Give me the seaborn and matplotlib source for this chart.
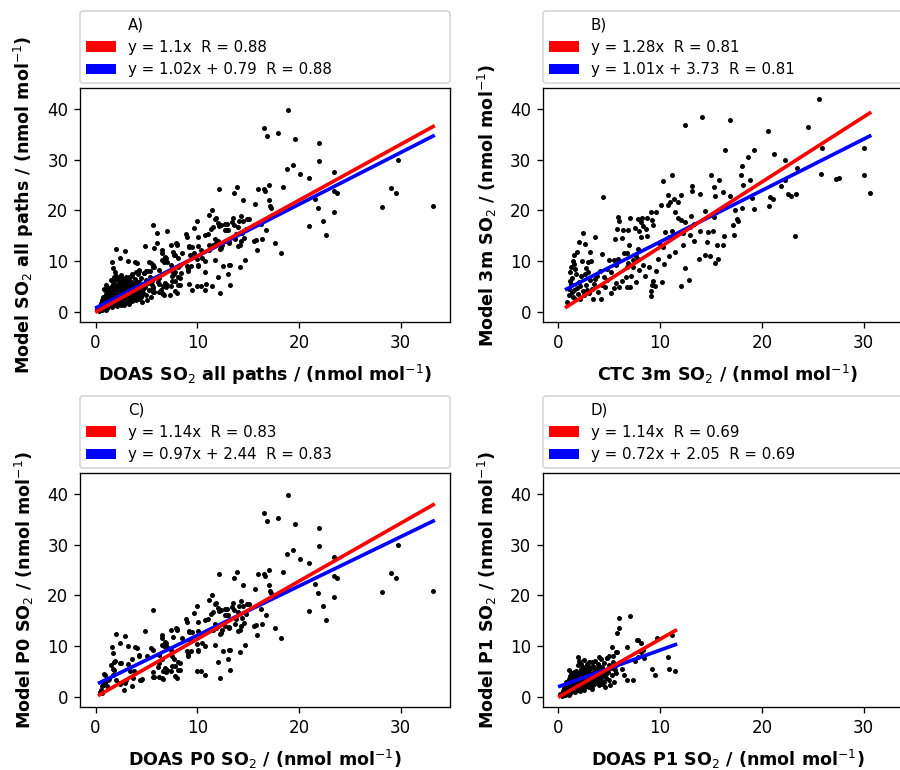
import numpy as np
import matplotlib
matplotlib.use('Agg')
import matplotlib.pyplot as plt
from matplotlib.patches import Patch
import seaborn as sns

# P0 path: DOAS vs model SO2 (nmol/mol)
p0_points = [
    (18.9, 39.7), (16.6, 36.2), (16.9, 34.7), (17.9, 35.3), (19.6, 34.1), (22.0, 33.2), (22.0, 29.7),
    (19.4, 29.0), (18.8, 28.2), (20.1, 27.2), (21.0, 26.4), (23.4, 27.5), (23.4, 23.9), (23.7, 23.4),
    (29.7, 29.9), (29.1, 24.4), (29.5, 23.4), (28.2, 20.6), (33.2, 20.8), (21.6, 22.2), (21.9, 20.5),
    (23.4, 19.6), (22.4, 17.9), (21.0, 16.9), (22.7, 15.1), (18.4, 24.7), (17.1, 25.0), (16.0, 24.3),
    (16.6, 24.2), (16.7, 23.8), (13.9, 24.7), (13.6, 23.4), (12.1, 24.2), (14.5, 22.0), (15.7, 21.2),
    (17.1, 22.0), (17.2, 20.9), (17.3, 20.4),
    (11.5, 20.0), (11.2, 19.1), (11.7, 18.3), (10.0, 17.9), (9.7, 16.6), (12.0, 17.6), (12.1, 17.0),
    (11.4, 16.4), (12.9, 17.4), (13.5, 18.6), (13.4, 17.8), (14.3, 19.0), (14.5, 17.9), (15.1, 18.3),
    (16.3, 17.4), (16.8, 16.1), (14.8, 16.4), (14.4, 15.5), (13.8, 15.3), (13.0, 16.1), (12.7, 16.2),
    (10.1, 14.7), (10.8, 15.1), (8.9, 15.3), (9.0, 14.7), (9.2, 13.0), (9.5, 12.8), (10.1, 13.0),
    (10.4, 12.3), (11.7, 14.4), (11.2, 13.2), (11.8, 13.6), (12.2, 12.4), (12.4, 13.2), (12.7, 14.0),
    (13.1, 13.8), (13.7, 14.4), (14.2, 13.3), (14.0, 13.0), (14.3, 14.0), (14.6, 14.5), (15.6, 14.0),
    (15.8, 14.2), (16.4, 14.4), (15.9, 12.2), (17.6, 13.6), (18.2, 11.6), (14.7, 10.3), (14.2, 8.8),
    (13.1, 9.2), (12.5, 9.0), (13.0, 7.4), (13.2, 5.3), (12.2, 3.7), (12.0, 6.9), (11.7, 10.2),
    (10.8, 10.0), (10.5, 10.6), (10.0, 10.4), (10.0, 5.1), (10.4, 5.1), (10.8, 4.3), (10.1, 9.0),
    (9.4, 9.1), (9.3, 11.3), (9.1, 8.4),
    (5.7, 17.2), (4.9, 13.0), (2.0, 12.4), (2.9, 12.1), (2.4, 10.6), (1.6, 9.8), (1.7, 8.6),
    (3.2, 10.1), (3.9, 9.9), (4.1, 9.6), (1.8, 6.9), (1.5, 6.4), (1.7, 5.5), (2.4, 6.8), (3.2, 6.6),
    (3.6, 7.4), (4.3, 8.2), (5.1, 8.0), (5.5, 9.7), (5.7, 9.3), (6.5, 12.3), (6.5, 11.7), (6.5, 10.3),
    (6.7, 10.0), (6.8, 10.8), (7.6, 11.8), (8.0, 13.3), (7.9, 13.5), (8.5, 11.6), (7.4, 9.3),
    (7.5, 8.0), (7.7, 7.5), (8.3, 6.7), (7.5, 6.1), (7.8, 4.2), (8.0, 3.7), (8.1, 5.4), (6.8, 5.7),
    (7.0, 5.3), (7.4, 5.1), (6.5, 3.8), (6.2, 3.9), (5.7, 3.9), (5.7, 4.9), (6.2, 6.8), (6.5, 7.5),
    (6.2, 8.3), (4.4, 3.4), (4.5, 3.3), (3.6, 2.2), (3.7, 3.8), (3.8, 5.1), (2.9, 2.8), (2.3, 2.8),
    (2.0, 3.4), (0.8, 4.5), (0.6, 2.1), (0.5, 1.4), (0.9, 2.8), (1.2, 3.4),
    (7.4, 13.2), (8.0, 13.4), (9.2, 12.9), (6.9, 10.7), (7.0, 9.9), (4.3, 8.0), (2.5, 6.8),
    (6.1, 5.9), (6.6, 5.1), (6.9, 4.9), (7.8, 6.2), (8.1, 6.9), (8.3, 5.3), (5.8, 3.9), (6.6, 3.6),
    (4.6, 3.6), (3.4, 5.2), (3.0, 3.4), (2.4, 2.6), (1.7, 4.4), (1.3, 3.6), (0.9, 4.4), (0.7, 2.4),
    (1.1, 2.1), (2.8, 1.4), (1.9, 7.1), (1.8, 5.4), (12.0, 13.9), (11.6, 13.3), (12.3, 12.6),
    (13.1, 13.6), (12.9, 16.1), (14.0, 16.7), (11.1, 15.3), (11.6, 16.7), (12.3, 17.2), (12.7, 17.4),
    (13.6, 17.2), (14.1, 18.0), (14.9, 18.3), (11.8, 18.6), (13.2, 9.2), (9.0, 9.1), (10.1, 9.3),
    (9.1, 8.0), (0.4, 1.0), (0.6, 0.8),
]

# P1 path: DOAS vs model SO2
p1_points = [
    (6.0, 15.5), (7.0, 16.0), (6.0, 13.6), (5.8, 12.6), (9.7, 11.6), (11.2, 12.2), (10.8, 7.9),
    (10.9, 5.5), (11.5, 5.2), (9.2, 5.6), (9.5, 4.3), (7.7, 11.2), (8.1, 10.7), (8.4, 7.6),
    (6.7, 3.3), (7.3, 3.4), (6.2, 5.5), (6.4, 4.3), (5.6, 5.4), (5.8, 8.9), (5.3, 9.8), (6.7, 9.9),
    (7.8, 11.2), (8.3, 9.2), (5.7, 8.9), (5.4, 8.0), (7.5, 7.2), (8.1, 8.8), (7.8, 7.9),
    (0.13, 0.6), (0.4, 1.2), (0.5, 0.8), (0.5, 1.8), (0.6, 2.4), (0.7, 1.1), (0.7, 3.0), (0.8, 1.6),
    (0.8, 2.1), (0.9, 0.9), (0.9, 2.8), (1.0, 1.3), (1.0, 3.5), (1.1, 2.0), (1.1, 4.1), (1.2, 1.0),
    (1.2, 2.6), (1.3, 3.2), (1.3, 1.6), (1.4, 2.2), (1.4, 4.6), (1.5, 3.0), (1.5, 1.4), (1.6, 3.8),
    (1.6, 2.5), (1.7, 5.2), (1.7, 1.9), (1.8, 3.4), (1.8, 2.8), (1.9, 4.2), (1.9, 6.3), (2.0, 2.1),
    (2.0, 3.6), (2.1, 4.9), (2.1, 2.9), (2.2, 1.8), (2.2, 5.6), (2.3, 3.3), (2.3, 4.4), (2.4, 2.5),
    (2.4, 6.0), (2.5, 3.9), (2.5, 7.3), (2.6, 5.0), (2.6, 3.0), (2.7, 4.3), (2.7, 2.2), (2.8, 6.4),
    (2.8, 3.6), (2.9, 5.3), (2.9, 4.0), (3.0, 2.8), (3.0, 6.9), (3.1, 4.7), (3.1, 3.4), (3.2, 5.8),
    (3.2, 2.5), (3.3, 4.2), (3.4, 6.2), (3.4, 3.8), (3.5, 5.0), (3.5, 3.0), (3.6, 7.1), (3.6, 4.5),
    (3.7, 2.7), (3.8, 5.5), (3.8, 3.6), (3.9, 6.6), (4.0, 4.1), (4.0, 2.4), (4.1, 5.2), (4.2, 7.4),
    (4.2, 3.3), (4.3, 6.0), (4.4, 4.6), (4.5, 2.9), (4.5, 6.8), (4.6, 5.4), (4.7, 3.8), (4.8, 7.6),
    (4.9, 4.9), (5.0, 6.3), (5.0, 3.4), (5.1, 2.3), (5.2, 5.8), (5.3, 4.3), (5.4, 7.0), (5.5, 3.0),
    (5.6, 6.2), (5.7, 4.7), (4.6, 1.9), (3.3, 1.6), (2.1, 1.2), (1.0, 0.5), (0.6, 0.4),
    (1.9, 7.9), (2.0, 7.2), (1.0, 5.3), (2.8, 6.6), (4.0, 7.8), (5.0, 8.0), (4.8, 7.6),
    (1.3, 2.4), (1.6, 1.1), (2.3, 1.6), (2.6, 2.0), (3.0, 2.0), (3.4, 2.3), (3.8, 2.9), (4.3, 2.6),
    (1.2, 4.8), (1.5, 5.0), (2.2, 6.5), (3.3, 7.0), (2.5, 1.4), (1.8, 1.3),
    (0.3, 0.3), (0.4, 0.5), (0.6, 1.5), (0.8, 1.2), (1.0, 1.8), (1.1, 0.8), (1.2, 1.5), (1.4, 1.8),
    (1.5, 2.6), (1.7, 2.4), (1.9, 1.6), (2.0, 2.6), (2.2, 2.3), (2.4, 3.4), (2.5, 2.3), (2.7, 3.0),
    (2.9, 2.4), (3.1, 2.9), (3.3, 3.1), (3.6, 3.5), (3.9, 3.2), (4.1, 3.8), (4.4, 4.2), (4.7, 4.5),
    (1.3, 4.0), (1.6, 4.4), (2.0, 4.6), (2.3, 5.1), (2.7, 5.6), (3.0, 5.9), (3.5, 6.0), (4.0, 6.2),
]

# CTC 3m vs model 3m SO2
ctc_points = [
    (25.6, 42.0), (14.1, 38.4), (16.9, 37.8), (12.4, 36.9), (20.6, 35.6), (24.5, 36.4), (16.4, 31.8),
    (19.2, 31.8), (18.6, 30.5), (21.2, 31.1), (22.3, 29.9), (18.0, 28.7), (23.5, 28.3), (25.9, 32.2),
    (30.0, 32.3), (30.0, 27.0), (30.6, 23.4), (25.8, 27.1), (27.3, 26.1), (27.6, 26.3), (23.3, 14.9),
    (22.3, 26.0), (21.9, 24.8), (22.6, 23.3), (22.9, 22.9), (23.4, 23.3), (20.8, 22.6), (21.1, 22.2),
    (20.7, 20.9), (19.2, 20.2), (19.0, 22.4), (18.8, 26.0), (18.1, 25.0), (17.9, 27.0), (15.8, 26.0),
    (15.0, 27.0), (15.3, 24.7), (16.2, 23.6), (16.9, 22.8), (17.4, 20.1), (18.0, 20.4), (17.6, 18.4),
    (17.7, 18.0), (17.2, 17.1), (17.3, 15.1), (16.3, 15.0), (16.2, 13.3), (15.6, 13.2), (15.7, 10.5),
    (15.4, 9.6), (14.9, 11.1), (14.4, 11.2), (13.8, 10.4), (14.6, 13.8), (15.2, 15.9), (14.7, 15.8),
    (13.9, 15.9), (14.4, 19.9), (15.3, 18.8), (15.4, 22.8), (13.9, 23.2), (13.1, 24.8), (13.1, 23.8),
    (12.0, 23.0), (11.2, 26.9), (10.3, 25.7), (10.8, 23.0), (11.4, 22.2), (11.8, 21.7), (11.0, 21.6),
    (10.8, 21.0), (10.1, 21.1), (11.5, 19.7), (11.8, 18.6), (12.0, 18.1), (12.4, 17.8), (13.0, 18.9),
    (13.3, 17.3), (12.9, 16.8), (12.2, 15.5), (12.9, 15.1), (13.3, 14.0), (12.2, 13.3), (11.2, 15.9),
    (10.5, 15.8), (10.9, 14.7), (9.9, 13.6), (10.3, 12.8), (11.5, 11.8), (10.9, 11.0), (9.8, 10.5),
    (12.4, 8.6), (12.8, 6.4), (12.0, 5.1), (10.4, 9.5), (10.2, 5.9), (9.6, 8.0), (9.1, 19.7),
    (9.6, 19.7), (8.2, 18.6), (7.8, 18.4), (8.1, 17.7), (8.7, 18.6), (9.2, 18.2), (9.3, 17.2),
    (8.3, 16.9), (8.6, 16.4), (7.9, 16.0), (8.7, 14.9), (8.1, 14.8), (7.0, 18.6), (7.5, 16.6),
    (6.8, 16.1), (6.3, 16.1), (5.9, 18.8), (6.0, 18.0), (5.8, 16.4), (5.6, 14.3), (6.2, 14.6),
    (6.9, 13.3), (6.4, 11.6), (6.7, 11.6), (7.6, 11.1), (7.8, 10.5), (7.8, 12.4), (7.3, 10.2),
    (6.8, 9.7), (6.7, 8.8), (7.3, 8.9), (7.9, 8.2), (8.3, 9.2), (8.5, 7.2), (8.9, 8.9), (9.3, 6.1),
    (9.2, 5.3), (9.1, 4.1), (9.1, 3.1), (9.5, 5.1), (7.6, 5.9), (7.1, 7.2), (6.6, 6.9), (6.2, 6.2),
    (6.7, 5.0), (7.0, 4.9), (6.0, 5.0), (5.7, 5.8), (5.2, 3.7), (5.5, 4.7), (4.4, 22.7), (4.3, 11.4),
    (3.6, 14.8), (3.1, 11.8), (3.2, 10.0), (2.4, 15.6), (2.0, 13.8), (2.6, 13.4), (1.5, 11.2),
    (1.8, 11.8), (1.4, 10.1), (2.3, 10.0), (2.9, 9.9), (1.2, 8.8), (1.6, 8.4), (1.1, 7.8), (1.3, 6.7),
    (1.7, 7.4), (2.2, 7.1), (2.6, 7.4), (3.1, 6.3), (3.6, 6.6), (3.5, 5.5), (2.7, 5.3), (2.1, 5.1),
    (1.5, 4.3), (1.0, 3.3), (0.8, 2.0), (1.6, 2.6), (2.5, 3.3), (3.4, 2.6), (4.2, 2.6), (4.6, 4.9),
    (4.8, 6.3), (4.1, 8.0), (4.8, 8.4), (5.0, 10.3), (5.5, 10.2), (5.9, 10.4), (5.7, 9.2), (5.2, 7.8),
    (1.2, 5.6), (1.0, 4.6), (1.3, 4.0), (1.9, 3.6), (2.8, 4.3), (2.1, 2.6),
    (1.4, 3.0), (1.8, 4.8), (2.4, 4.1), (3.0, 3.8), (3.3, 4.6), (3.9, 4.0), (4.3, 5.3), (1.1, 6.2),
    (2.0, 6.0), (2.9, 7.9), (3.8, 7.2), (4.5, 7.0), (1.5, 9.4), (2.7, 8.6),
]

titles = ['A)', 'B)', 'C)', 'D)']
slope_origin = [1.1, 1.28, 1.14, 1.14]
slope_fit = [1.02, 1.01, 0.97, 0.72]
intercept_fit = [0.79, 3.73, 2.44, 2.05]
r_values = [0.88, 0.81, 0.83, 0.69]
xlabels = ['DOAS SO$_2$ all paths / (nmol mol$^{-1}$)', 'CTC 3m SO$_2$ / (nmol mol$^{-1}$)',
           'DOAS P0 SO$_2$ / (nmol mol$^{-1}$)', 'DOAS P1 SO$_2$ / (nmol mol$^{-1}$)']
ylabels = ['Model SO$_2$ all paths / (nmol mol$^{-1}$)', 'Model 3m SO$_2$ / (nmol mol$^{-1}$)',
           'Model P0 SO$_2$ / (nmol mol$^{-1}$)', 'Model P1 SO$_2$ / (nmol mol$^{-1}$)']

p0 = np.array(p0_points)
p1 = np.array(p1_points)
ctc = np.array(ctc_points)
datasets = [np.vstack([p0, p1]), ctc, p0, p1]

fig = plt.figure(figsize=(7.5, 770 / 120), dpi=120)
rects = [[0.0889, 0.5818, 0.4111, 0.3039], [0.6033, 0.5818, 0.4111, 0.3039],
         [0.0889, 0.0818, 0.4111, 0.3039], [0.6033, 0.0818, 0.4111, 0.3039]]
axes = []
for i, rect in enumerate(rects):
    if i == 0:
        ax = fig.add_axes(rect)
    else:
        ax = fig.add_axes(rect, sharex=axes[0], sharey=axes[0])
    axes.append(ax)

for i, ax in enumerate(axes):
    d = datasets[i]
    sns.scatterplot(x=d[:, 0], y=d[:, 1], ax=ax, color='black', s=9, linewidth=0, zorder=2)
    xl = np.array([d[:, 0].min(), d[:, 0].max()])
    sns.lineplot(x=xl, y=slope_fit[i] * xl + intercept_fit[i], ax=ax, color='blue', lw=2.2, zorder=3)
    sns.lineplot(x=xl, y=slope_origin[i] * xl, ax=ax, color='red', lw=2.2, zorder=4)
    ax.set_xlabel(xlabels[i], fontweight='bold', fontsize=10.5, labelpad=6.5)
    ax.set_ylabel(ylabels[i], fontweight='bold', fontsize=10.5, labelpad=7)
    ax.set_xticks([0, 10, 20, 30])
    ax.set_yticks([0, 10, 20, 30, 40])
    ax.tick_params(labelbottom=True, labelleft=True)

    handles = [Patch(facecolor='none', edgecolor='none'), Patch(facecolor='red'), Patch(facecolor='blue')]
    labels = [titles[i],
              f'y = {slope_origin[i]}x  R = {r_values[i]}',
              f'y = {slope_fit[i]}x + {intercept_fit[i]}  R = {r_values[i]}']
    ax.legend(handles, labels, bbox_to_anchor=(0, 1.02, 1, 0.2), loc='lower left',
              mode='expand', borderaxespad=0, fontsize=9)

fig.savefig('out.png', dpi=120)
